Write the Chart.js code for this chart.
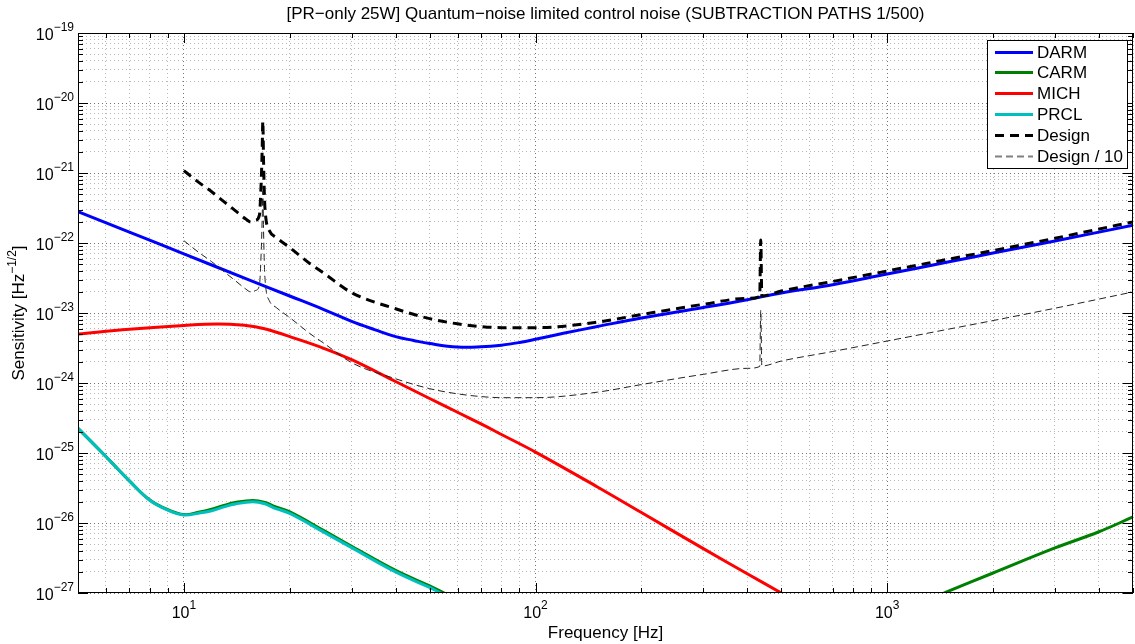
<!DOCTYPE html>
<html>
<head>
<meta charset="utf-8">
<script src="https://cdn.jsdelivr.net/npm/chart.js@4.4.1/dist/chart.umd.min.js"></script>
<style>
  html, body { margin: 0; padding: 0; background: #fff; }
  #wrap { width: 1135px; height: 644px; position: relative; }
</style>
</head>
<body>
<div id="wrap"><canvas id="noise-chart"></canvas></div>
<script>
// Frequencies [Hz] and amplitude spectral densities [1/sqrt(Hz)]
const darmFreq = [5, 7, 10, 15, 20, 25, 30, 35, 40, 45, 50, 60, 70, 80, 90, 100, 120, 150, 200, 300, 400, 500, 700, 1000, 1500, 2000, 3000, 5000];
const darmAsd = [2.8e-22, 1.43e-22, 7.0e-23, 3.1e-23, 1.75e-23, 1.12e-23, 7.6e-24, 5.75e-24, 4.6e-24, 4.05e-24, 3.66e-24, 3.27e-24,
                 3.29e-24, 3.47e-24, 3.79e-24, 4.21e-24, 5.13e-24, 6.41e-24, 8.49e-24, 1.2e-23, 1.55e-23, 1.93e-23, 2.53e-23,
                 3.6e-23, 5.38e-23, 7.18e-23, 1.07e-22, 1.79e-22];

const carmFreq = [5, 6, 7, 8, 9, 10, 11, 12, 13, 14, 15.7, 17, 18, 20, 25, 30, 40, 50, 55, 60, 1000, 1500, 2000, 3000, 4000, 5000];
const carmAsd = [2.25e-25, 8.9e-26, 4.0e-26, 2.13e-26, 1.55e-26, 1.32e-26, 1.42e-26, 1.57e-26, 1.78e-26, 1.96e-26, 2.1e-26, 1.97e-26,
                 1.74e-26, 1.44e-26, 7.8e-27, 4.65e-27, 2.1e-27, 1.26e-27, 1.0e-27, 8.4e-28, 4.7e-28, 1.07e-27, 1.93e-27, 4.4e-27, 7.5e-27, 1.22e-26];

const michFreq = [5, 7, 10, 12.5, 15, 16.2, 17.3, 20, 25, 30, 40, 50, 60, 70, 80, 100, 150, 200, 300, 400, 500, 600];
const michAsd = [5.0e-24, 5.85e-24, 6.65e-24, 6.97e-24, 6.65e-24, 6.25e-24, 5.8e-24, 4.6e-24, 3.13e-24, 2.15e-24, 1.05e-24, 6.0e-25,
                 3.82e-25, 2.6e-25, 1.84e-25, 1.03e-25, 3.27e-26, 1.41e-26, 4.3e-27, 1.88e-27, 1.0e-27, 5.9e-28];

const prclFreq = [5, 6, 7, 8, 9, 10, 11, 12, 13, 14, 15.7, 17, 18, 20, 25, 30, 40, 50, 55, 60];
const prclAsd = [2.25e-25, 8.9e-26, 4.0e-26, 2.11e-26, 1.53e-26, 1.3e-26, 1.38e-26, 1.5e-26, 1.7e-26, 1.87e-26, 2.01e-26, 1.88e-26,
                 1.65e-26, 1.37e-26, 7.4e-27, 4.44e-27, 2.0e-27, 1.2e-27, 9.5e-28, 8e-28];

const designFreq = [10, 11, 12, 13, 14, 15, 15.5, 16, 16.4, 16.6, 16.7, 16.77, 16.85, 16.95, 17.1, 17.5, 18.3, 20, 22.8, 25, 30, 40,
                    50, 60, 70, 80, 100, 150, 200, 300, 400, 434, 437, 440, 500, 700, 1000, 1500, 2000, 3000, 5000];
const designAsd = [1.08e-21, 7.4e-22, 5.4e-22, 3.9e-22, 2.9e-22, 2.2e-22, 2.0e-22, 2.1e-22, 2.5e-22, 8e-22, 2.2e-21, 5.5e-21, 1.5e-21,
                   4.5e-22, 2.3e-22, 1.5e-22, 1.2e-22, 8.6e-23, 5.1e-23, 3.7e-23, 1.95e-23, 1.15e-23, 8.3e-24, 7.0e-24, 6.4e-24,
                   6.17e-24, 6.17e-24, 7.4e-24, 9.5e-24, 1.33e-23, 1.62e-23, 1.72e-23, 1.1e-22, 1.75e-23, 2.06e-23, 2.82e-23,
                   3.98e-23, 5.9e-23, 7.8e-23, 1.17e-22, 2.0e-22];
const designTenthAsd = [1.08e-22, 7.4e-23, 5.4e-23, 3.9e-23, 2.9e-23, 2.2e-23, 2.0e-23, 2.1e-23, 2.5e-23, 8e-23, 2.2e-22, 5.5e-22, 1.5e-22,
                        4.5e-23, 2.3e-23, 1.5e-23, 1.2e-23, 8.6e-24, 5.1e-24, 3.7e-24, 1.95e-24, 1.15e-24, 8.3e-25, 7.0e-25, 6.4e-25,
                        6.17e-25, 6.17e-25, 7.4e-25, 9.5e-25, 1.33e-24, 1.62e-24, 1.72e-24, 1.1e-23, 1.75e-24, 2.06e-24, 2.82e-24,
                        3.98e-24, 5.9e-24, 7.8e-24, 1.17e-23, 2.0e-23];

// Axis ranges and labelled decades (exponents of 10)
const xMin = 5, xMax = 5000;
const yMin = 1e-27, yMax = 1e-19;
const xDecades = [1, 2, 3];
const yDecades = [-27, -26, -25, -24, -23, -22, -21, -20, -19];

const titleText = '[PR\u2212only 25W] Quantum\u2212noise limited control noise (SUBTRACTION PATHS 1/500)';
const FONT = '"Liberation Sans", Arial, Helvetica, sans-serif';
const MINUS = '\u2212';

function pairs(freq, asd) {
    return freq.map((f, i) => ({ x: f, y: asd[i] }));
}

// ticks at 1..9 x 10^e inside [min, max]
function logTicks(min, max) {
    const out = [];
    const e0 = Math.floor(Math.log10(min));
    const e1 = Math.ceil(Math.log10(max));
    for (let e = e0; e <= e1; e++) {
        for (let m = 1; m <= 9; m++) {
            const v = Number(m + 'e' + e);
            if (v >= min * 0.999 && v <= max * 1.001) out.push({ value: v, major: m === 1 });
        }
    }
    return out;
}

const gridColor = (ctx) => (ctx.tick && ctx.tick.major) ? 'rgba(0,0,0,0.55)' : 'rgba(0,0,0,0.28)';

const smooth = { tension: 0.4, cubicInterpolationMode: 'default' };

const datasets = [
    { label: 'DARM', data: pairs(darmFreq, darmAsd), borderColor: '#0000ff', borderWidth: 3, order: 6, ...smooth },
    { label: 'CARM', data: pairs(carmFreq, carmAsd), borderColor: '#008000', borderWidth: 3, order: 5, ...smooth },
    { label: 'MICH', data: pairs(michFreq, michAsd), borderColor: '#ff0000', borderWidth: 3, order: 4, ...smooth },
    { label: 'PRCL', data: pairs(prclFreq, prclAsd), borderColor: '#00bfbf', borderWidth: 3, order: 3, ...smooth },
    { label: 'Design', data: pairs(designFreq, designAsd), borderColor: '#000000', borderWidth: 3, borderDash: [9, 6], order: 2,
      cubicInterpolationMode: 'monotone' },
    { label: 'Design / 10', data: pairs(designFreq, designTenthAsd), borderColor: '#222222', borderWidth: 1, borderDash: [7, 4], order: 1,
      cubicInterpolationMode: 'monotone', legendColor: '#808080', legendWidth: 2 }
];

// "10" with a raised exponent
function drawPower(ctx, exp, x, baseY, supY, align) {
    const base = '10';
    const sup = String(exp).replace('-', MINUS);
    ctx.font = '16px ' + FONT;
    const wb = ctx.measureText(base).width;
    ctx.font = '12px ' + FONT;
    const ws = ctx.measureText(sup).width;
    let start = x;
    if (align === 'right') start = x - wb - ws;
    if (align === 'center') start = x - (wb + ws) / 2;
    ctx.textAlign = 'left';
    ctx.textBaseline = 'alphabetic';
    ctx.font = '16px ' + FONT;
    ctx.fillText(base, start, baseY);
    ctx.font = '12px ' + FONT;
    ctx.fillText(sup, start + wb, supY);
}

const decorations = {
    id: 'decorations',
    afterDraw(chart) {
        const ctx = chart.ctx;
        const area = chart.chartArea;
        const xs = chart.scales.x, ys = chart.scales.y;
        ctx.save();
        ctx.fillStyle = '#000';
        ctx.strokeStyle = '#000';
        ctx.lineWidth = 1;

        // inward tick marks on all four sides
        ctx.beginPath();
        xs.ticks.forEach(t => {
            const px = Math.round(xs.getPixelForValue(t.value)) + 0.5;
            const len = t.major ? 10 : 5;
            ctx.moveTo(px, area.bottom); ctx.lineTo(px, area.bottom - len);
            ctx.moveTo(px, area.top); ctx.lineTo(px, area.top + len);
        });
        ys.ticks.forEach(t => {
            const py = Math.round(ys.getPixelForValue(t.value)) + 0.5;
            const len = t.major ? 10 : 5;
            ctx.moveTo(area.left, py); ctx.lineTo(area.left + len, py);
            ctx.moveTo(area.right, py); ctx.lineTo(area.right - len, py);
        });
        ctx.stroke();

        // axes box
        ctx.strokeRect(Math.round(area.left) + 0.5, Math.round(area.top) + 0.5,
                       Math.round(area.right - area.left) - 1, Math.round(area.bottom - area.top) - 1);

        // tick labels
        xDecades.forEach(e => {
            const px = xs.getPixelForValue(Math.pow(10, e));
            drawPower(ctx, e, px, 618, 609, 'center');
        });
        yDecades.forEach(e => {
            const py = ys.getPixelForValue(Number('1e' + e));
            drawPower(ctx, e, 74, py + 7, py - 2, 'right');
        });

        // title and axis titles
        ctx.font = '17px ' + FONT;
        ctx.textAlign = 'center';
        ctx.textBaseline = 'alphabetic';
        const cx = (area.left + area.right) / 2;
        ctx.fillText(titleText, cx, 19);
        ctx.fillText('Frequency [Hz]', cx, 638);

        ctx.save();
        ctx.translate(24, (area.top + area.bottom) / 2);
        ctx.rotate(-Math.PI / 2);
        const main = 'Sensitivity [Hz', sup = MINUS + '1/2', close = ']';
        ctx.font = '17px ' + FONT;
        const w1 = ctx.measureText(main).width, w3 = ctx.measureText(close).width;
        ctx.font = '12px ' + FONT;
        const w2 = ctx.measureText(sup).width;
        const sx = -(w1 + w2 + w3) / 2;
        ctx.textAlign = 'left';
        ctx.font = '17px ' + FONT;
        ctx.fillText(main, sx, 0);
        ctx.font = '12px ' + FONT;
        ctx.fillText(sup, sx + w1, -8);
        ctx.font = '17px ' + FONT;
        ctx.fillText(close, sx + w1 + w2, 0);
        ctx.restore();

        // legend box
        const lx = 987.5, ly = 40.5, lw = 140, lh = 128;
        ctx.fillStyle = '#fff';
        ctx.fillRect(lx, ly, lw, lh);
        ctx.strokeStyle = '#000';
        ctx.lineWidth = 1;
        ctx.strokeRect(lx, ly, lw, lh);
        ctx.font = '17px ' + FONT;
        ctx.textAlign = 'left';
        ctx.textBaseline = 'middle';
        chart.data.datasets.forEach((ds, i) => {
            const y = Math.round(51.5 + i * 20.9);
            ctx.save();
            ctx.strokeStyle = ds.legendColor || ds.borderColor;
            ctx.lineWidth = ds.legendWidth || ds.borderWidth;
            ctx.setLineDash(ds.borderDash || []);
            ctx.beginPath();
            ctx.moveTo(995, y + 0.5);
            ctx.lineTo(1033, y + 0.5);
            ctx.stroke();
            ctx.restore();
            ctx.fillStyle = '#000';
            ctx.fillText(ds.label, 1037, y + 1);
        });
        ctx.restore();
    }
};

new Chart(document.getElementById('noise-chart'), {
    type: 'line',
    data: { datasets: datasets },
    options: {
        responsive: true,
        maintainAspectRatio: false,
        animation: false,
        elements: {
            point: { radius: 0 },
            line: { fill: false }
        },
        layout: { padding: { left: 78, top: 33, right: 2, bottom: 51 } },
        plugins: {
            legend: { display: false },
            title: { display: false },
            tooltip: { enabled: false }
        },
        scales: {
            x: {
                type: 'logarithmic',
                min: xMin,
                max: xMax,
                afterBuildTicks: (scale) => { scale.ticks = logTicks(xMin, xMax); },
                ticks: { display: false },
                grid: { color: gridColor, lineWidth: 1, drawTicks: false },
                border: { display: false, dash: [1, 3] }
            },
            y: {
                type: 'logarithmic',
                min: yMin,
                max: yMax,
                afterBuildTicks: (scale) => { scale.ticks = logTicks(yMin, yMax); },
                ticks: { display: false },
                grid: { color: gridColor, lineWidth: 1, drawTicks: false },
                border: { display: false, dash: [1, 3] }
            }
        }
    },
    plugins: [decorations]
});
</script>
</body>
</html>
